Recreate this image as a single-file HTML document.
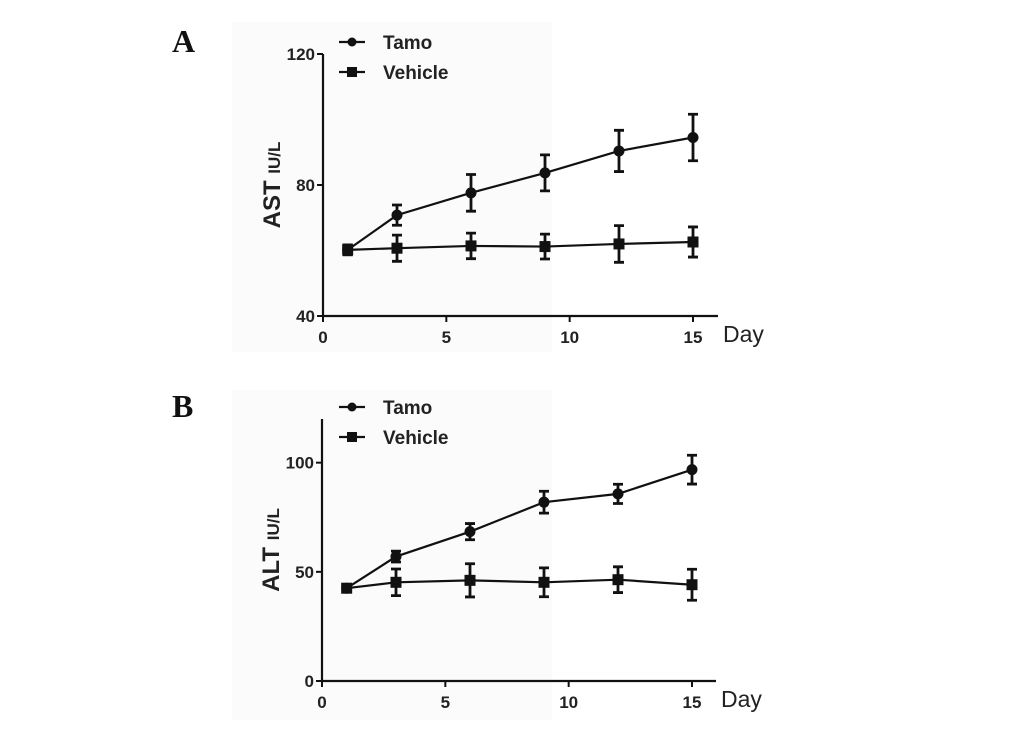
<!DOCTYPE html>
<html><head><meta charset="utf-8"><style>
body{margin:0;background:#fff;}
svg text{font-family:"Liberation Sans",Arial,sans-serif;}
</style></head><body>
<svg id="chart" width="1033" height="731" xmlns="http://www.w3.org/2000/svg">
<rect width="1033" height="731" fill="#fff"/>
<rect x="232" y="22" width="320" height="330" fill="#fbfbfb"/>
<rect x="232" y="390" width="320" height="330" fill="#fbfbfb"/>
</svg>
<script>
const days = [1, 3, 6, 9, 12, 15];
const astTamo = [60.2, 70.8, 77.6, 83.7, 90.4, 94.5];
const astTamoErr = [1.5, 3.1, 5.6, 5.5, 6.3, 7.1];
const astVeh = [60.2, 60.7, 61.4, 61.2, 62, 62.6];
const astVehErr = [1.5, 4, 3.9, 3.8, 5.6, 4.6];
const altTamo = [42.5, 57, 68.4, 81.9, 85.7, 96.8];
const altTamoErr = [1.5, 2.5, 3.7, 5, 4.4, 6.6];
const altVeh = [42.5, 45.2, 46.1, 45.2, 46.4, 44.1];
const altVehErr = [1.5, 6.1, 7.6, 6.6, 5.9, 7.1];
const xTicks = [0, 5, 10, 15];
const astTicks = [40, 80, 120];
const altTicks = [0, 50, 100];

const NS = "http://www.w3.org/2000/svg";
const svg = document.getElementById('chart');
function mk(tag, attrs, parent, text) {
  const e = document.createElementNS(NS, tag);
  for (const k in attrs) e.setAttribute(k, attrs[k]);
  if (text !== undefined) e.textContent = text;
  (parent || svg).appendChild(e);
  return e;
}

function panel(cfg) {
  const g = mk('g', {});
  
  
  const xs = d => cfg.x0 + (d / 15) * (cfg.x15 - cfg.x0);
  const ys = v => cfg.yBot - (v - cfg.yMin) / (cfg.yMax - cfg.yMin) * (cfg.yBot - cfg.yTop);
  const ya = mk('line', {x1: cfg.x0, y1: cfg.yTop, x2: cfg.x0, y2: cfg.yBot, stroke: '#111', 'stroke-width': 2.2}, g);
  
  
  const xa = mk('line', {x1: cfg.x0 - 1, y1: cfg.yBot, x2: cfg.xEnd, y2: cfg.yBot, stroke: '#111', 'stroke-width': 2.2}, g);
  
  
  cfg.yTicks.forEach(t => {
    const y = ys(t);
    mk('line', {x1: cfg.x0 - 6, y1: y, x2: cfg.x0, y2: y, stroke: '#111', 'stroke-width': 2}, g);
    const tl = mk('text', {x: cfg.x0 - 8, y: y + 6, 'text-anchor': 'end', 'font-size': 17, 'font-weight': 'bold', fill: '#222'}, g, t);
    
    
  });
  xTicks.forEach(t => {
    const x = xs(t);
    mk('line', {x1: x, y1: cfg.yBot, x2: x, y2: cfg.yBot + 6, stroke: '#111', 'stroke-width': 2}, g);
    const tl = mk('text', {x: x, y: cfg.yBot + 27, 'text-anchor': 'middle', 'font-size': 17, 'font-weight': 'bold', fill: '#222'}, g, t);
    
    
  });
  const dl = mk('text', {x: cfg.xEnd + 5, y: cfg.yBot + 26, 'font-size': 23, fill: '#222'}, g, 'Day');
  
  
  const yt = mk('text', {transform: `translate(${cfg.x0 - 43},${(cfg.yTop + cfg.yBot) / 2}) rotate(-90)`, 'text-anchor': 'middle', 'font-weight': 'bold', fill: '#222'}, g);
  
  
  mk('tspan', {'font-size': 24}, yt, cfg.yTitle + ' ');
  mk('tspan', {'font-size': 17}, yt, 'IU/L');
  const pl = mk('text', {x: 172, y: cfg.yTop - 2, 'font-size': 32, 'font-weight': 'bold', fill: '#111'}, g, cfg.letter);
  pl.setAttribute('style', 'font-family:"Liberation Serif",serif');
  
  
  [[cfg.veh, cfg.vehErr, 'square', 'vehicle'], [cfg.tamo, cfg.tamoErr, 'circle', 'tamo']].forEach(([vals, errs, shape, nm]) => {
    const pts = days.map((d, i) => xs(d) + ',' + ys(vals[i])).join(' ');
    const ln = mk('polyline', {points: pts, fill: 'none', stroke: '#111', 'stroke-width': 2.2}, g);
    
    
    days.forEach((d, i) => {
      const x = xs(d), y = ys(vals[i]), e1 = ys(vals[i] + errs[i]), e2 = ys(vals[i] - errs[i]);
      const eb = mk('path', {d: `M${x},${e1}V${e2}M${x - 5},${e1}H${x + 5}M${x - 5},${e2}H${x + 5}`, stroke: '#111', 'stroke-width': 2.8, fill: 'none'}, g);
      
      
      let m;
      if (shape === 'circle') m = mk('circle', {cx: x, cy: y, r: 5.5, fill: '#111'}, g);
      else m = mk('rect', {x: x - 5.5, y: y - 5.5, width: 11, height: 11, fill: '#111'}, g);
      
      
    });
  });
  [['Tamo', 'circle', 0], ['Vehicle', 'square', 30]].forEach(([label, shape, dy]) => {
    const lg = mk('g', {}, g);
    
    
    const y = cfg.legY + dy;
    mk('line', {x1: 339, y1: y, x2: 365, y2: y, stroke: '#111', 'stroke-width': 2.2}, lg);
    if (shape === 'circle') mk('circle', {cx: 352, cy: y, r: 4.5, fill: '#111'}, lg);
    else mk('rect', {x: 347, y: y - 5, width: 10, height: 10, fill: '#111'}, lg);
    mk('text', {x: 383, y: y + 7, 'font-size': 19, 'font-weight': 'bold', fill: '#222'}, lg, label);
  });
}

panel({name: 'panel-a-ast', letter: 'A', yTitle: 'AST', x0: 323, x15: 693, xEnd: 718, yTop: 54, yBot: 316, yMin: 40, yMax: 120,
  yTicks: astTicks, tamo: astTamo, tamoErr: astTamoErr, veh: astVeh, vehErr: astVehErr, legY: 42});
panel({name: 'panel-b-alt', letter: 'B', yTitle: 'ALT', x0: 322, x15: 692, xEnd: 716, yTop: 419, yBot: 681, yMin: 0, yMax: 120,
  yTicks: altTicks, tamo: altTamo, tamoErr: altTamoErr, veh: altVeh, vehErr: altVehErr, legY: 407});
</script>
</body></html>
